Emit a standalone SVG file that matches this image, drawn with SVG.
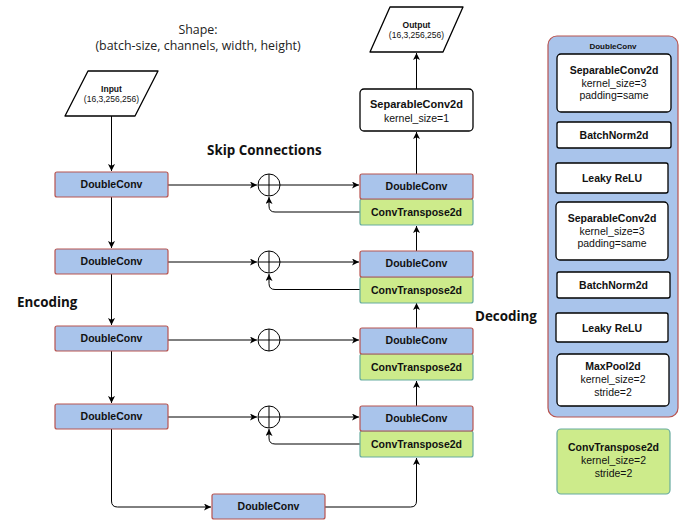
<svg xmlns="http://www.w3.org/2000/svg" width="686" height="521" viewBox="0 0 686 521">
<defs>
<style>
.bg{fill:#ffffff}
.dc{fill:#a9c4eb;stroke:#b85450;stroke-width:1.2}
.ct{fill:#cdeb8b;stroke:#67ab9f;stroke-width:1.2}
.wb{fill:#ffffff;stroke:#000000;stroke-width:1.3}
.io{fill:#ffffff;stroke:#000000;stroke-width:1.3;stroke-linejoin:round}
.lbl{font-family:"Liberation Sans",Arial,sans-serif;font-weight:bold;font-size:10.5px;fill:#111;text-anchor:middle}
.sub{font-family:"Liberation Sans",Arial,sans-serif;font-size:10.5px;fill:#111;text-anchor:middle}
.small{font-family:"Liberation Sans",Arial,sans-serif;font-size:8.5px;fill:#111;text-anchor:middle}
.smallb{font-family:"Liberation Sans",Arial,sans-serif;font-size:8.5px;font-weight:bold;fill:#111;text-anchor:middle}
.head{font-family:"Open Sans",sans-serif;font-weight:bold;font-size:13.4px;fill:#111}
.shape{font-family:"Open Sans",sans-serif;font-size:12.4px;fill:#222;text-anchor:middle}
.edge{fill:none;stroke:#000;stroke-width:1}
.sum{fill:#fff;stroke:#000;stroke-width:1}
</style>
<marker id="arr" markerWidth="8" markerHeight="8" refX="7" refY="3.5" orient="auto" markerUnits="userSpaceOnUse">
<path d="M0,0 L7,3.5 L0,7 L1.8,3.5 z" fill="#000"/>
</marker>
</defs>
<rect class="bg" x="0" y="0" width="686" height="521"/>

<g id="title">
<text class="shape" x="198" y="34">Shape:</text>
<text class="shape" x="198" y="50">(batch-size, channels, width, height)</text>
</g>
<g id="labels">
<text class="head" x="207" y="155">Skip Connections</text>
<text class="head" x="17" y="307">Encoding</text>
<text class="head" x="475" y="321">Decoding</text>
</g>

<g id="connectors">
<path class="edge" d="M111.5,116 V171" marker-end="url(#arr)"/>
<path class="edge" d="M111.5,197 V248" marker-end="url(#arr)"/>
<path class="edge" d="M111.5,274 V325" marker-end="url(#arr)"/>
<path class="edge" d="M111.5,351 V403" marker-end="url(#arr)"/>
<path class="edge" d="M111.5,429 V501 Q111.5,507 117.5,507 H211" marker-end="url(#arr)"/>
<path class="edge" d="M325,507 H410.5 Q416.5,507 416.5,501 V458" marker-end="url(#arr)"/>
<path class="edge" d="M416.5,406 V381" marker-end="url(#arr)"/>
<path class="edge" d="M416.5,328 V303" marker-end="url(#arr)"/>
<path class="edge" d="M416.5,251 V226" marker-end="url(#arr)"/>
<path class="edge" d="M416.5,174 V132" marker-end="url(#arr)"/>
<path class="edge" d="M416.5,89 V53" marker-end="url(#arr)"/>

<path class="edge" d="M168,185 H257" marker-end="url(#arr)"/>
<path class="edge" d="M280,185 H359" marker-end="url(#arr)"/>
<path class="edge" d="M360,212 H275 Q269,212 269,206 V197" marker-end="url(#arr)"/>

<path class="edge" d="M168,262 H257" marker-end="url(#arr)"/>
<path class="edge" d="M280,262 H359" marker-end="url(#arr)"/>
<path class="edge" d="M360,289.5 H275 Q269,289.5 269,283.5 V274" marker-end="url(#arr)"/>

<path class="edge" d="M168,340 H257" marker-end="url(#arr)"/>
<path class="edge" d="M280,340 H359" marker-end="url(#arr)"/>

<path class="edge" d="M168,417 H257" marker-end="url(#arr)"/>
<path class="edge" d="M280,417 H359" marker-end="url(#arr)"/>
<path class="edge" d="M360,444 H275 Q269,444 269,438 V429" marker-end="url(#arr)"/>
</g>

<g id="sum1"><circle class="sum" cx="269" cy="185" r="11"/><path class="edge" d="M258,185 H280 M269,174 V196"/></g>
<g id="sum2"><circle class="sum" cx="269" cy="262" r="11"/><path class="edge" d="M258,262 H280 M269,251 V273"/></g>
<g id="sum3"><circle class="sum" cx="269" cy="340" r="11"/><path class="edge" d="M258,340 H280 M269,329 V351"/></g>
<g id="sum4"><circle class="sum" cx="269" cy="417" r="11"/><path class="edge" d="M258,417 H280 M269,406 V428"/></g>

<g id="input">
<path class="io" d="M88,71 H158 L135,116 H65 Z"/>
<text class="smallb" x="111.5" y="92">Input</text>
<text class="small" x="111.5" y="102">(16,3,256,256)</text>
</g>
<g id="output">
<path class="io" d="M390,7 H463 L443,52 H370 Z"/>
<text class="smallb" x="416.5" y="28">Output</text>
<text class="small" x="416.5" y="38">(16,3,256,256)</text>
</g>

<g id="enc1"><rect class="dc" x="55" y="172" width="113" height="25" rx="2"/><text class="lbl" x="111.5" y="187.5">DoubleConv</text></g>
<g id="enc2"><rect class="dc" x="55" y="249" width="113" height="25" rx="2"/><text class="lbl" x="111.5" y="264.5">DoubleConv</text></g>
<g id="enc3"><rect class="dc" x="55" y="326" width="113" height="25" rx="2"/><text class="lbl" x="111.5" y="341.5">DoubleConv</text></g>
<g id="enc4"><rect class="dc" x="55" y="404" width="113" height="25" rx="2"/><text class="lbl" x="111.5" y="419.5">DoubleConv</text></g>
<g id="bottleneck"><rect class="dc" x="212" y="494" width="113" height="25" rx="2"/><text class="lbl" x="268.5" y="509.5">DoubleConv</text></g>

<g id="dec1">
<rect class="ct" x="360" y="199" width="113" height="26" rx="2"/>
<rect class="dc" x="360" y="174" width="113" height="25" rx="2"/>
<text class="lbl" x="416.5" y="189.5">DoubleConv</text>
<text class="lbl" x="416.5" y="215.5">ConvTranspose2d</text>
</g>
<g id="dec2">
<rect class="ct" x="360" y="277" width="113" height="26" rx="2"/>
<rect class="dc" x="360" y="251" width="113" height="26" rx="2"/>
<text class="lbl" x="416.5" y="267">DoubleConv</text>
<text class="lbl" x="416.5" y="293.5">ConvTranspose2d</text>
</g>
<g id="dec3">
<rect class="ct" x="360" y="354" width="113" height="26" rx="2"/>
<rect class="dc" x="360" y="328" width="113" height="26" rx="2"/>
<text class="lbl" x="416.5" y="344">DoubleConv</text>
<text class="lbl" x="416.5" y="370.5">ConvTranspose2d</text>
</g>
<g id="dec4">
<rect class="ct" x="360" y="431" width="113" height="26" rx="2"/>
<rect class="dc" x="360" y="406" width="113" height="25" rx="2"/>
<text class="lbl" x="416.5" y="421.5">DoubleConv</text>
<text class="lbl" x="416.5" y="447.5">ConvTranspose2d</text>
</g>

<g id="sepconv-out">
<rect class="wb" x="360" y="89" width="113" height="42" rx="4"/>
<text class="lbl" x="416.5" y="108" style="font-size:11px">SeparableConv2d</text>
<text class="sub" x="416.5" y="122">kernel_size=1</text>
</g>

<g id="legend-doubleconv">
<rect class="dc" x="548" y="36" width="130" height="381" rx="9"/>
<text class="smallb" x="613" y="49" style="font-size:8px">DoubleConv</text>
<g id="p-sep1"><rect class="wb" x="557" y="54" width="114" height="58" rx="4"/>
<text class="lbl" x="614" y="74">SeparableConv2d</text>
<text class="sub" x="614" y="87">kernel_size=3</text>
<text class="sub" x="614" y="99">padding=same</text></g>
<g id="p-bn1"><rect class="wb" x="557" y="122" width="114" height="26" rx="2"/>
<text class="lbl" x="614" y="139">BatchNorm2d</text></g>
<g id="p-relu1"><rect class="wb" x="556" y="163" width="112" height="30" rx="2"/>
<text class="lbl" x="612" y="182">Leaky ReLU</text></g>
<g id="p-sep2"><rect class="wb" x="556" y="202" width="112" height="58" rx="4"/>
<text class="lbl" x="612" y="222">SeparableConv2d</text>
<text class="sub" x="612" y="235">kernel_size=3</text>
<text class="sub" x="612" y="247">padding=same</text></g>
<g id="p-bn2"><rect class="wb" x="557" y="272" width="113" height="26" rx="2"/>
<text class="lbl" x="613.5" y="289">BatchNorm2d</text></g>
<g id="p-relu2"><rect class="wb" x="556" y="313" width="112" height="29" rx="2"/>
<text class="lbl" x="612" y="331.5">Leaky ReLU</text></g>
<g id="p-pool"><rect class="wb" x="557" y="354" width="112" height="52" rx="4"/>
<text class="lbl" x="613" y="370">MaxPool2d</text>
<text class="sub" x="613" y="383">kernel_size=2</text>
<text class="sub" x="613" y="396">stride=2</text></g>
</g>

<g id="legend-convtranspose">
<rect class="ct" x="557" y="429" width="113" height="65" rx="4"/>
<text class="lbl" x="613.5" y="451">ConvTranspose2d</text>
<text class="sub" x="613.5" y="464">kernel_size=2</text>
<text class="sub" x="613.5" y="477">stride=2</text>
</g>
</svg>
